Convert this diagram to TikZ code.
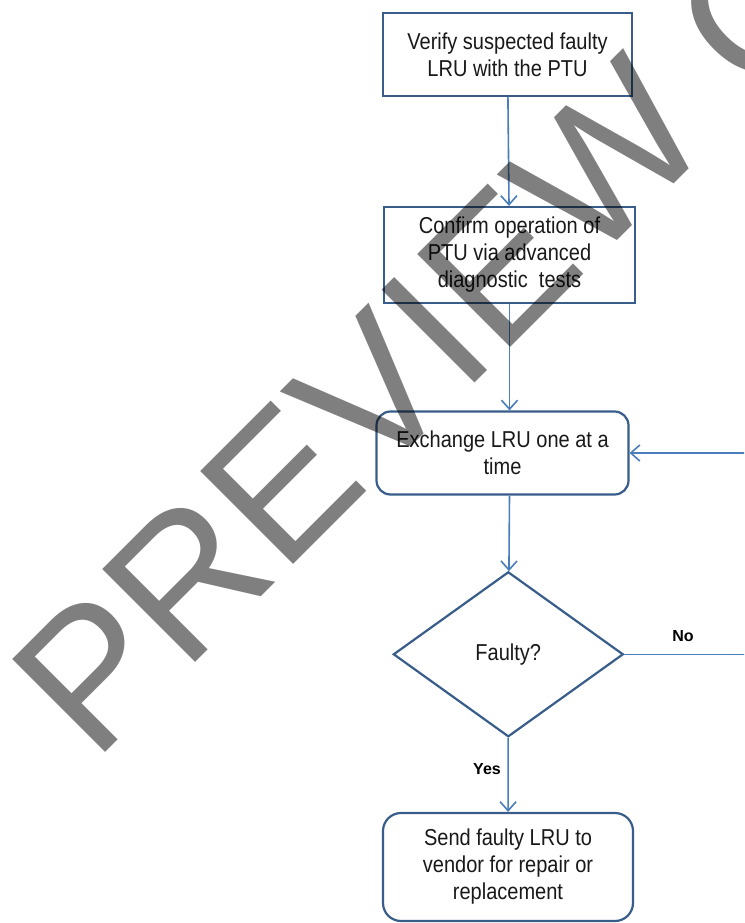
\documentclass[tikz,border=0pt]{standalone}
\usepackage{fontspec}
\setmainfont{Liberation Sans}
\newfontfamily\chartfont[FakeStretch=0.87]{Liberation Sans}
\usetikzlibrary{arrows.meta,shapes.geometric}
\definecolor{boxblue}{RGB}{56,93,138}
\definecolor{lineblue}{RGB}{74,126,187}

\begin{document}
\begin{tikzpicture}[x=1pt,y=-1pt,-{Straight Barb[length=9pt,width=16pt]},
  every edge/.style={draw=lineblue,line width=1.6pt},
  main node/.style={rectangle,draw=boxblue,line width=2.2pt,fill=white,inner sep=0pt,
    align=center,text=black!90,font=\chartfont\fontsize{23}{27}\selectfont},
  round node/.style={main node,rounded corners=14pt},
  test node/.style={main node,diamond},
  label node/.style={inner sep=0pt,font=\fontsize{16}{18}\selectfont\bfseries},
  mark node/.style={anchor=base west,rotate=45,inner sep=0pt,text=black,
    text opacity=0.5,font=\fontsize{191}{191}\selectfont}]

  \useasboundingbox (0,0) rectangle (744,923);
  \clip (0,0) rectangle (744,923);

  \node[main node,minimum width=249pt,minimum height=83pt] (verify) at (507.5,54.5)
    {Verify suspected faulty\\LRU with the PTU};
  \node[main node,minimum width=251pt,minimum height=96pt] (confirm) at (509.5,255)
    {Confirm operation of\\PTU via advanced\\diagnostic\ \ tests};
  \node[round node,minimum width=252pt,minimum height=83pt] (exchange) at (502.5,453)
    {Exchange LRU one at a\\time};
  \node[test node,minimum width=230pt,minimum height=165pt] (faulty) at (508.3,654.3)
    {Faulty?};
  \node[round node,rounded corners=18pt,minimum width=250pt,minimum height=108pt] (send) at (508,867)
    {Send faulty LRU to\\vendor for repair or\\replacement};

  \node[label node] (no) at (683,636) {No};
  \node[label node] (yes) at (487,769) {Yes};

  \path
    (verify) edge (confirm)
    (confirm) edge (confirm.south |- exchange.north)
    (confirm.south |- exchange.south) edge (faulty)
    (faulty) edge (send)
    ;
  \draw[draw=lineblue,line width=1.6pt] (faulty.east) -- ++(140,0) |- (exchange.east);

  \node[mark node] (preview) at (94.4,763.6) {PREVIEW C};
\end{tikzpicture}
\end{document}
